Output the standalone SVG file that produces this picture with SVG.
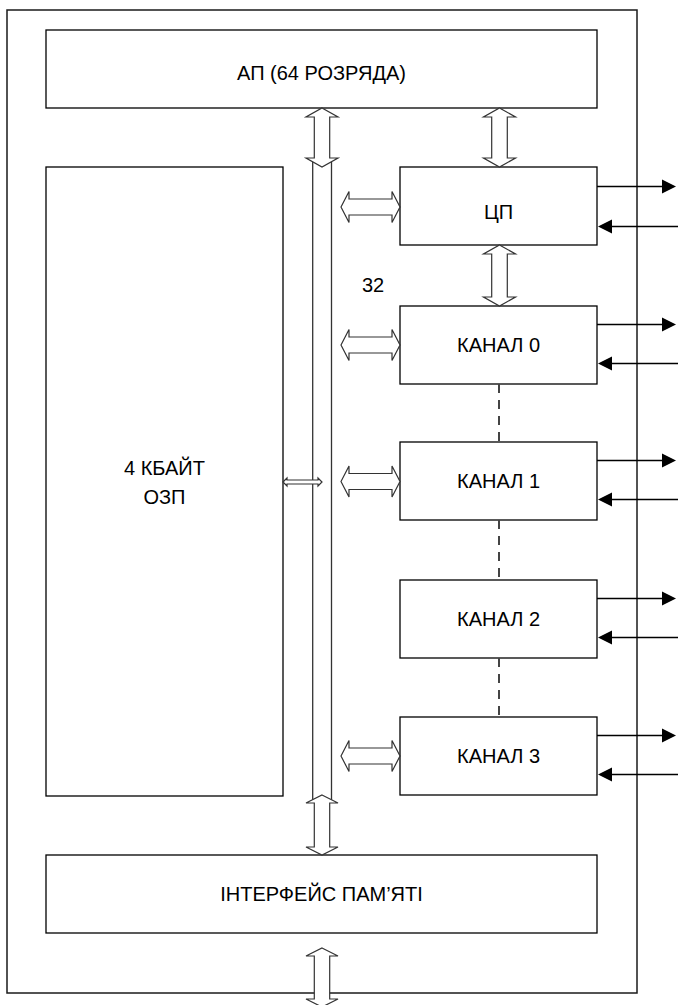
<svg xmlns="http://www.w3.org/2000/svg" width="678" height="1005" viewBox="0 0 678 1005">
<style>
.box{fill:#ffffff;stroke:#000000;stroke-width:1.3}
.frame{fill:#ffffff;stroke:#1a1a1a;stroke-width:1.5}
.darr{fill:#ffffff;stroke:#333333;stroke-width:1.2;stroke-linejoin:miter}
.bus{stroke:#333333;stroke-width:1.3;fill:none}
.io{stroke:#000000;stroke-width:1.3;fill:none}
.head{fill:#000000;stroke:none}
.dash{stroke:#444444;stroke-width:2;stroke-dasharray:9 7;fill:none}
text{font-family:"Liberation Sans",Arial,sans-serif;font-size:20px;fill:#000000;text-anchor:middle}
</style>
<rect class="frame" x="7" y="10" width="630" height="983"/>
<g id="ap"><rect class="box" x="46" y="30" width="551" height="78"/><text x="321.5" y="80">АП (64 РОЗРЯДА)</text></g>
<g id="ozp"><rect class="box" x="46" y="167" width="237" height="629"/><text x="164.5" y="475">4 КБАЙТ</text><text x="164.5" y="504">ОЗП</text></g>
<g id="cp"><rect class="box" x="400" y="167" width="197" height="78"/><text x="498.5" y="219">ЦП</text></g>
<g id="k0"><rect class="box" x="400" y="306" width="197" height="78"/><text x="498.5" y="352">КАНАЛ 0</text></g>
<g id="k1"><rect class="box" x="400" y="442" width="197" height="78"/><text x="498.5" y="488">КАНАЛ 1</text></g>
<g id="k2"><rect class="box" x="400" y="580" width="197" height="78"/><text x="498.5" y="626">КАНАЛ 2</text></g>
<g id="k3"><rect class="box" x="400" y="717" width="197" height="78"/><text x="498.5" y="763">КАНАЛ 3</text></g>
<g id="mem"><rect class="box" x="46" y="855" width="551" height="78"/><text x="321.5" y="901">ІНТЕРФЕЙС ПАМ’ЯТІ</text></g>
<g id="label32"><text x="373" y="292">32</text></g>
<g id="connectors">
<line class="bus" x1="312.7" y1="162" x2="312.7" y2="800"/>
<line class="bus" x1="331.5" y1="162" x2="331.5" y2="800"/>
<polygon class="darr" points="322,108 338,117 329.7,117 329.7,158 338,158 322,167 306,158 314.3,158 314.3,117 306,117"/>
<polygon class="darr" points="499.5,108 515.5,117 507.3,117 507.3,158 515.5,158 499.5,167 483.5,158 491.7,158 491.7,117 483.5,117"/>
<polygon class="darr" points="499.5,245 515.5,254 507.3,254 507.3,297 515.5,297 499.5,306 483.5,297 491.7,297 491.7,254 483.5,254"/>
<polygon class="darr" points="322,795 338,803 329.7,803 329.7,847 338,847 322,855 306,847 314.3,847 314.3,803 306,803"/>
<polygon class="darr" points="322,948 338,956 329.7,956 329.7,999 338,999 322,1007 306,999 314.3,999 314.3,956 306,956"/>
<polygon class="darr" points="341,207 349,191.5 349,199 392,199 392,191.5 400,207 392,222.5 392,215 349,215 349,222.5"/>
<polygon class="darr" points="341,345 349,329.5 349,337 392,337 392,329.5 400,345 392,360.5 392,353 349,353 349,360.5"/>
<polygon class="darr" points="341,481.5 349,466 349,473.5 392,473.5 392,466 400,481.5 392,497 392,489.5 349,489.5 349,497"/>
<polygon class="darr" points="341,756 349,740.5 349,748 392,748 392,740.5 400,756 392,771.5 392,764 349,764 349,771.5"/>
<polygon class="darr" points="283,482 287,478 287,480 318,480 318,478 322,482 318,486 318,484 287,484 287,486"/>
<line class="dash" x1="499" y1="384" x2="499" y2="442"/>
<line class="dash" x1="499" y1="520" x2="499" y2="580"/>
<line class="dash" x1="499" y1="658" x2="499" y2="717"/>
<g id="io">
<line class="io" x1="597" y1="186.5" x2="663" y2="186.5"/><polygon class="head" points="662,179.5 676,186.5 662,193.5"/>
<line class="io" x1="678" y1="226.5" x2="611" y2="226.5"/><polygon class="head" points="612,219.5 598,226.5 612,233.5"/>
<line class="io" x1="597" y1="324.5" x2="663" y2="324.5"/><polygon class="head" points="662,317.5 676,324.5 662,331.5"/>
<line class="io" x1="678" y1="363.5" x2="611" y2="363.5"/><polygon class="head" points="612,356.5 598,363.5 612,370.5"/>
<line class="io" x1="597" y1="460.5" x2="663" y2="460.5"/><polygon class="head" points="662,453.5 676,460.5 662,467.5"/>
<line class="io" x1="678" y1="499.5" x2="611" y2="499.5"/><polygon class="head" points="612,492.5 598,499.5 612,506.5"/>
<line class="io" x1="597" y1="598.5" x2="663" y2="598.5"/><polygon class="head" points="662,591.5 676,598.5 662,605.5"/>
<line class="io" x1="678" y1="637.5" x2="611" y2="637.5"/><polygon class="head" points="612,630.5 598,637.5 612,644.5"/>
<line class="io" x1="597" y1="735.5" x2="663" y2="735.5"/><polygon class="head" points="662,728.5 676,735.5 662,742.5"/>
<line class="io" x1="678" y1="774.5" x2="611" y2="774.5"/><polygon class="head" points="612,767.5 598,774.5 612,781.5"/>
</g>
</g>
</svg>
